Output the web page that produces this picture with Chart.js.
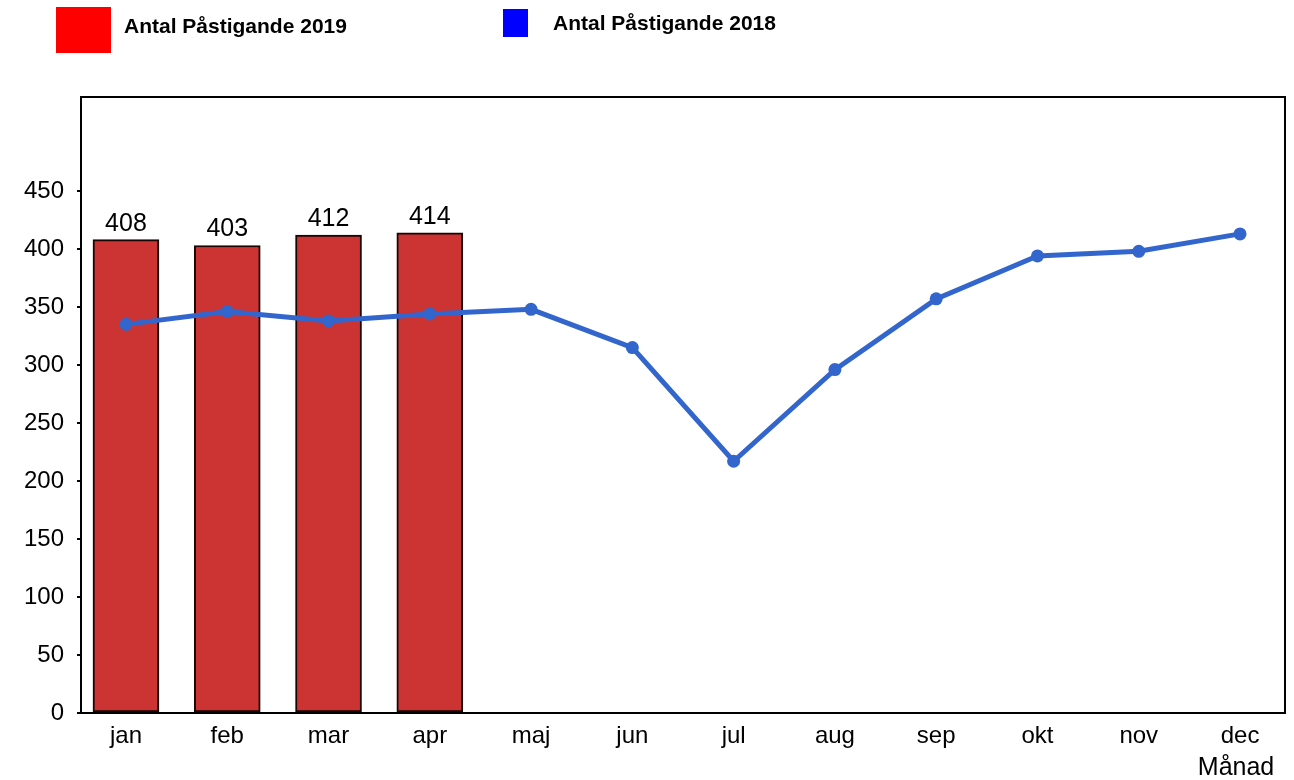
<!DOCTYPE html>
<html lang="sv">
<head>
  <meta charset="UTF-8">
  <title>Antal Påstigande</title>
  <style>
    body {
      margin: 0;
      background: #fff;
      font-family: 'Liberation Sans', Arial, sans-serif;
    }
    .wrap {
      position: relative;
      width: 1294px;
      height: 780px;
    }
    .legend-box {
      position: absolute;
    }
    .legend-text {
      position: absolute;
      font-weight: bold;
      font-size: 21px;
      color: #000;
      white-space: nowrap;
      line-height: 1;
    }
  </style>
</head>
<body>
  <div class="wrap">
    <canvas id="chart"></canvas>
    <div class="legend-box" style="left:56px;top:7px;width:55px;height:46px;background:#ff0000"></div>
    <div class="legend-text" style="left:124px;top:15px">Antal Påstigande 2019</div>
    <div class="legend-box" style="left:503px;top:9px;width:25px;height:28px;background:#0000ff"></div>
    <div class="legend-text" style="left:553px;top:12px">Antal Påstigande 2018</div>
  </div>

  <script src="https://cdn.jsdelivr.net/npm/chart.js@4.4.0/dist/chart.umd.min.js"></script>
  <script>
    const months = ['jan', 'feb', 'mar', 'apr', 'maj', 'jun', 'jul', 'aug', 'sep', 'okt', 'nov', 'dec'];
    const riders2019 = [408, 403, 412, 414];
    const riders2018 = [335, 346, 338, 344, 348, 315, 217, 296, 357, 394, 398, 413];
    const yTicks = [0, 50, 100, 150, 200, 250, 300, 350, 400, 450];

    const FONT = "'Liberation Sans', Arial, sans-serif";

    // values on top of the bars
    const barLabels = {
      id: 'barLabels',
      afterDatasetsDraw(chart) {
        const ctx = chart.ctx;
        const meta = chart.getDatasetMeta(1);
        ctx.save();
        ctx.font = '25px ' + FONT;
        ctx.fillStyle = '#000';
        ctx.textAlign = 'center';
        ctx.textBaseline = 'alphabetic';
        meta.data.forEach((bar, i) => {
          ctx.fillText(String(riders2019[i]), bar.x, bar.y - 9);
        });
        ctx.restore();
      }
    };

    // frame round the plot + axis title under "dec"
    const frame = {
      id: 'frame',
      afterDraw(chart) {
        const { ctx, chartArea: a } = chart;
        ctx.save();
        ctx.strokeStyle = '#000';
        ctx.lineWidth = 2;
        ctx.strokeRect(a.left, a.top, a.right - a.left, a.bottom - a.top);
        ctx.font = '25px ' + FONT;
        ctx.fillStyle = '#000';
        ctx.textAlign = 'center';
        ctx.textBaseline = 'alphabetic';
        ctx.fillText('Månad', chart.scales.x.getPixelForValue(months.length - 1) - 4, 775);
        ctx.restore();
      }
    };

    new Chart(document.getElementById('chart'), {
      data: {
        datasets: [
          {
            type: 'line',
            label: 'Antal Påstigande 2018',
            data: riders2018.map((v, i) => ({ x: i, y: v })),
            borderColor: '#3366cc',
            backgroundColor: '#3366cc',
            borderWidth: 5,
            pointRadius: 6.5,
            pointBorderWidth: 0,
            tension: 0,
            order: 0
          },
          {
            type: 'bar',
            label: 'Antal Påstigande 2019',
            data: riders2019.map((v, i) => ({ x: i, y: v })),
            backgroundColor: '#cc3333',
            borderColor: '#1a0505',
            borderWidth: 2,
            borderSkipped: false,
            barThickness: 66,
            order: 1
          }
        ]
      },
      options: {
        responsive: true,
        maintainAspectRatio: false,
        animation: false,
        layout: { padding: { top: 97, right: 9, left: 0, bottom: 0 } },
        plugins: {
          legend: { display: false },
          tooltip: { enabled: false }
        },
        scales: {
          x: {
            type: 'linear',
            offset: false,
            min: -0.444,
            max: 11.444,
            grid: { display: false, drawTicks: false },
            border: { display: false },
            afterBuildTicks(scale) {
              scale.ticks = months.map((m, i) => ({ value: i }));
            },
            afterFit(scale) { scale.height = 67; },
            ticks: {
              autoSkip: false,
              maxRotation: 0,
              padding: 9,
              color: '#000',
              font: { family: FONT, size: 24 },
              callback: (v) => months[v]
            }
          },
          y: {
            min: 0,
            max: 531,
            grid: {
              drawOnChartArea: false,
              drawTicks: true,
              tickLength: 4,
              color: '#000',
              lineWidth: 2
            },
            border: { display: false },
            afterBuildTicks(scale) {
              scale.ticks = yTicks.map(v => ({ value: v }));
            },
            afterFit(scale) { scale.width = 81; },
            ticks: {
              padding: 13,
              color: '#000',
              font: { family: FONT, size: 24 }
            }
          }
        }
      },
      plugins: [barLabels, frame]
    });
  </script>
</body>
</html>
